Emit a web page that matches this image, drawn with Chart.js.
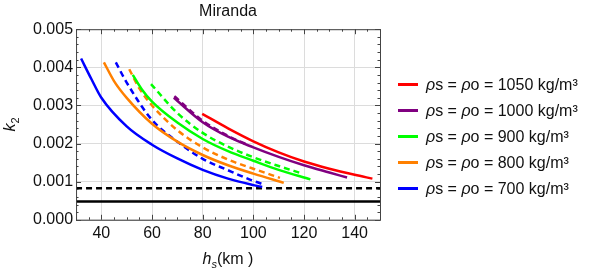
<!DOCTYPE html>
<html>
<head>
<meta charset="utf-8">
<script src="https://cdn.jsdelivr.net/npm/chart.js@4"></script>
<style>
  html, body { margin: 0; padding: 0; background: #fff; }
  #wrap { width: 595px; height: 273px; }
</style>
</head>
<body>
<div id="wrap"><canvas id="chart"></canvas></div>
<script>
// h_s (km) and k2, one pair of arrays per curve
const red1050H = [79.8, 90, 100, 110, 120, 130, 140, 147];
const red1050K = [0.00278, 0.0024, 0.00206, 0.00177, 0.00153, 0.00134, 0.00118, 0.00108];

const purple1000H = [68.6, 80, 90, 100, 110, 120, 130, 137];
const purple1000K = [0.0032, 0.00256, 0.00218, 0.0019, 0.00165, 0.00143, 0.00124, 0.00111];
const purple1000DashH = [68.8, 80, 90, 98];
const purple1000DashK = [0.00324, 0.0026, 0.0022, 0.00196];

const green900H = [52.4, 56, 60, 70, 80, 90, 100, 110, 122.5];
const green900K = [0.0038, 0.00342, 0.0031, 0.00255, 0.00212, 0.0018, 0.00155, 0.00131, 0.00106];
const green900DashH = [59.6, 70, 80, 90, 100, 110, 119];
const green900DashK = [0.00356, 0.0028, 0.00228, 0.00192, 0.00164, 0.00141, 0.00122];

const orange800H = [41, 45, 50, 60, 70, 80, 90, 100, 112];
const orange800K = [0.00413, 0.00364, 0.0032, 0.00252, 0.00205, 0.0017, 0.00143, 0.00121, 0.00097];
const orange800DashH = [51, 55, 60, 70, 80, 90, 100, 110.5];
const orange800DashK = [0.00395, 0.00345, 0.003, 0.00235, 0.0019, 0.00158, 0.00134, 0.0011];

const blue700H = [32, 36, 40, 50, 60, 70, 80, 90, 100, 103.5];
const blue700K = [0.00423, 0.0037, 0.0032, 0.00245, 0.00197, 0.00161, 0.00131, 0.00108, 0.00091, 0.00086];
const blue700DashH = [45.7, 50, 60, 70, 80, 90, 100, 104];
const blue700DashK = [0.00413, 0.0036, 0.00262, 0.00205, 0.0016, 0.0013, 0.00102, 0.00093];

const limitH = [30, 150];
const limitDashK = [0.00083, 0.00083];
const limitSolidK = [0.00048, 0.00048];

const legendLabels = [
  "ρs = ρo = 1050 kg/m³",
  "ρs = ρo = 1000 kg/m³",
  "ρs = ρo = 900 kg/m³",
  "ρs = ρo = 800 kg/m³",
  "ρs = ρo = 700 kg/m³"
];
const xTicks = [40, 60, 80, 100, 120, 140];

const RED = "#ff0000", PURPLE = "#800080", GREEN = "#00ff00", ORANGE = "#ff8000", BLUE = "#0000ff";
const FONT = "'Liberation Sans', Arial, sans-serif";

const pts = (xs, ys) => xs.map((x, i) => ({ x: x, y: ys[i] }));

const line = (label, xs, ys, color, dashed) => ({
  label: label,
  data: pts(xs, ys),
  borderColor: color,
  backgroundColor: color,
  borderWidth: 2.5,
  borderDash: dashed ? [6, 4] : [],
  pointRadius: 0,
  cubicInterpolationMode: "monotone",
  fill: false
});

// draw runs of text with different styles, starting at x
const drawRuns = (ctx, runs, x, y) => {
  runs.forEach((r) => {
    ctx.font = r.font;
    ctx.fillText(r.text, x, y + (r.dy || 0));
    x += ctx.measureText(r.text).width;
  });
};
const runsWidth = (ctx, runs) => runs.reduce((w, r) => { ctx.font = r.font; return w + ctx.measureText(r.text).width; }, 0);

// inward frame ticks (Mathematica style), axis titles and legend
const frameTicks = {
  id: "frameTicks",
  afterDraw(chart) {
    const { ctx, chartArea: a, scales: { x, y } } = chart;
    ctx.save();
    ctx.strokeStyle = "#444";
    ctx.lineWidth = 1;
    ctx.strokeRect(a.left + 0.5, a.top + 0.5, a.right - a.left, a.bottom - a.top);
    ctx.beginPath();
    for (let v = 30; v <= 150; v += 5) {
      const px = Math.round(x.getPixelForValue(v)) + 0.5;
      const len = v % 20 === 0 ? 5 : 2.5;
      ctx.moveTo(px, a.bottom); ctx.lineTo(px, a.bottom - len);
      ctx.moveTo(px, a.top); ctx.lineTo(px, a.top + len);
    }
    for (let i = 0; i <= 25; i++) {
      const py = Math.round(y.getPixelForValue(i * 0.0002)) + 0.5;
      const len = i % 5 === 0 ? 5 : 2.5;
      ctx.moveTo(a.left, py); ctx.lineTo(a.left + len, py);
      ctx.moveTo(a.right, py); ctx.lineTo(a.right - len, py);
    }
    ctx.stroke();

    // x axis title: italic h, italic subscript s, upright (km)
    ctx.fillStyle = "#111";
    ctx.textBaseline = "alphabetic";
    const xt = [
      { text: "h", font: "italic 16px " + FONT },
      { text: "s", font: "italic 11px " + FONT, dy: 4 },
      { text: "(km )", font: "16px " + FONT }
    ];
    const cx = (a.left + a.right) / 2;
    drawRuns(ctx, xt, cx - runsWidth(ctx, xt) / 2, a.bottom + 44);

    // y axis title: italic k, subscript 2
    const yt = [
      { text: "k", font: "italic 16px " + FONT },
      { text: "2", font: "11px " + FONT, dy: 4 }
    ];
    ctx.save();
    ctx.translate(15, (a.top + a.bottom) / 2);
    ctx.rotate(-Math.PI / 2);
    drawRuns(ctx, yt, -runsWidth(ctx, yt) / 2, 0);
    ctx.restore();

    // legend, solid line per density
    const colors = chart.data.datasets.filter((d) => d.label).map((d) => d.borderColor);
    const rowH = 26;
    const top = chart.height / 2 - rowH * (legendLabels.length - 1) / 2;
    const lx = a.right + 18;
    ctx.textBaseline = "middle";
    legendLabels.forEach((lab, i) => {
      const ly = top + i * rowH;
      ctx.strokeStyle = colors[i];
      ctx.lineWidth = 3;
      ctx.beginPath();
      ctx.moveTo(lx, ly); ctx.lineTo(lx + 20, ly);
      ctx.stroke();
      const runs = [];
      lab.split(/(ρ)/).filter((s) => s).forEach((s) => {
        runs.push({ text: s, font: (s === "ρ" ? "italic " : "") + "16px " + FONT });
      });
      drawRuns(ctx, runs, lx + 28, ly + 1);
    });
    ctx.restore();
  }
};

Chart.defaults.font.family = FONT;
Chart.defaults.color = "#111";

new Chart(document.getElementById("chart"), {
  type: "line",
  data: {
    datasets: [
      line(legendLabels[0], red1050H, red1050K, RED, false),
      line(legendLabels[1], purple1000H, purple1000K, PURPLE, false),
      line(legendLabels[2], green900H, green900K, GREEN, false),
      line(legendLabels[3], orange800H, orange800K, ORANGE, false),
      line(legendLabels[4], blue700H, blue700K, BLUE, false),
      line("", purple1000DashH, purple1000DashK, PURPLE, true),
      line("", green900DashH, green900DashK, GREEN, true),
      line("", orange800DashH, orange800DashK, ORANGE, true),
      line("", blue700DashH, blue700DashK, BLUE, true),
      line("", limitH, limitDashK, "#000", true),
      line("", limitH, limitSolidK, "#000", false)
    ]
  },
  options: {
    responsive: true,
    maintainAspectRatio: false,
    animation: false,
    layout: { padding: { left: 30, right: 215, top: 2, bottom: 26 } },
    plugins: {
      title: {
        display: true,
        text: "Miranda",
        color: "#111",
        fullSize: false,
        font: { size: 16, weight: "normal" },
        padding: { top: 0, bottom: 8 }
      },
      legend: { display: false },
      tooltip: { enabled: false }
    },
    scales: {
      x: {
        type: "linear",
        min: 30,
        max: 150,
        afterBuildTicks(scale) { scale.ticks = xTicks.map((v) => ({ value: v })); },
        ticks: { font: { size: 16 }, color: "#111", padding: 4 },
        grid: { color: "#dcdcdc", drawTicks: false },
        border: { display: false }
      },
      y: {
        min: 0,
        max: 0.005,
        ticks: {
          stepSize: 0.001,
          font: { size: 16 },
          color: "#111",
          padding: 3,
          callback: (v) => v.toFixed(3)
        },
        grid: { color: "#dcdcdc", drawTicks: false },
        border: { display: false }
      }
    }
  },
  plugins: [frameTicks]
});
</script>
</body>
</html>
